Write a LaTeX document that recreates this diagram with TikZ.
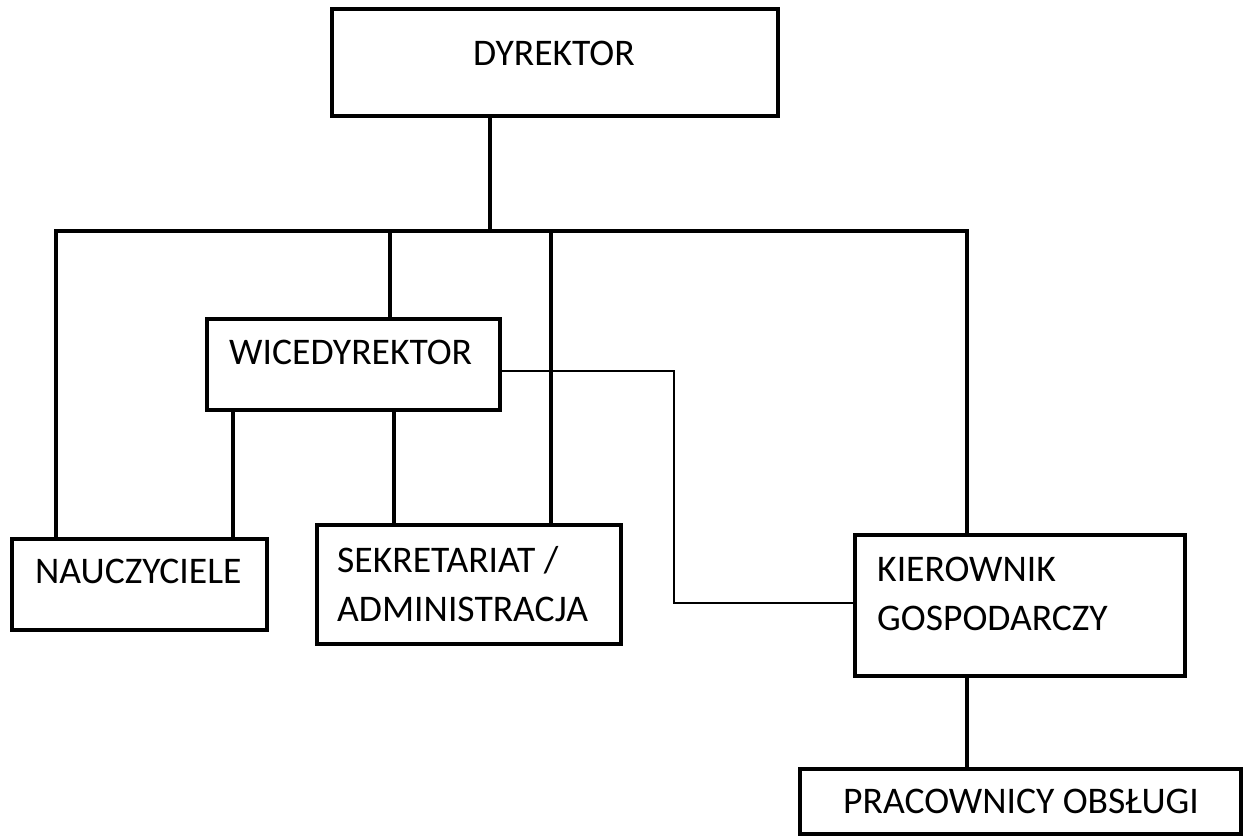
\documentclass[tikz,border=0pt]{standalone}
\usepackage{fontspec}
\setmainfont{Carlito}
\begin{document}
\begin{tikzpicture}[x=1pt,y=-1pt,
  box/.style={draw=black,line width=4.5pt,rectangle,inner sep=0pt,fill=white},
  lbl/.style={inner sep=0pt,font=\fontsize{37.6}{49}\selectfont,text=black},
  conn/.style={draw=black,line width=3.2pt},
  thinconn/.style={draw=black,line width=2.5pt}]
\useasboundingbox[fill=white] (0,0) rectangle (1247,839);
% boxes
\node[box,minimum width=446pt,minimum height=107pt] (dyr) at (555,62.5) {};
\node[box,minimum width=293pt,minimum height=91pt] (wice) at (353.5,364.5) {};
\node[box,minimum width=255pt,minimum height=91pt] (naucz) at (139.5,584.5) {};
\node[box,minimum width=304pt,minimum height=119pt] (sekr) at (469,584.5) {};
\node[box,minimum width=330pt,minimum height=141pt] (kier) at (1020,605.5) {};
\node[box,minimum width=441pt,minimum height=65pt] (prac) at (1020.5,801.5) {};
% texts
\node[lbl,anchor=base] (tdyr) at (554,65) {DYREKTOR};
\node[lbl,anchor=base west] (twice) at (229,364) {WICEDYREKTOR};
\node[lbl,anchor=base west] (tnaucz) at (35,583) {NAUCZYCIELE};
\node[lbl,anchor=base west] (tsekr1) at (337,572) {SEKRETARIAT /};
\node[lbl,anchor=base west] (tsekr2) at (337,621) {ADMINISTRACJA};
\node[lbl,anchor=base west] (tkier1) at (877,581) {KIEROWNIK};
\node[lbl,anchor=base west] (tkier2) at (877,630) {GOSPODARCZY};
\node[lbl,anchor=base west] (tprac) at (843,813) {PRACOWNICY OBSŁUGI};
% junction coordinates
\coordinate (j0) at (490,231);
\coordinate (bL) at (56,231);
\coordinate (bR) at (967,231);
\coordinate (bW) at (390,231);
\coordinate (bS) at (551,231);
\coordinate (wN) at (233,0);
\coordinate (wS) at (394,0);
\coordinate (elbow) at (674,0);
% connectors
\draw[conn,line width=3.8pt] (j0 |- dyr.south) -- (j0);
\draw[conn] (bL |- naucz.north) -- (bL) -- (bR) -- (bR |- kier.north);
\draw[conn] (bW) -- (bW |- wice.north);
\draw[conn] (bS) -- (bS |- sekr.north);
\draw[conn] (wN |- wice.south) -- (wN |- naucz.north);
\draw[conn] (wS |- wice.south) -- (wS |- sekr.north);
\draw[thinconn] (wice.east |- 0,371) -- (elbow |- 0,371) -- (elbow |- 0,603) -- (kier.west |- 0,603);
\draw[conn,line width=4.2pt] (bR |- kier.south) -- (bR |- prac.north);
\end{tikzpicture}
\end{document}
